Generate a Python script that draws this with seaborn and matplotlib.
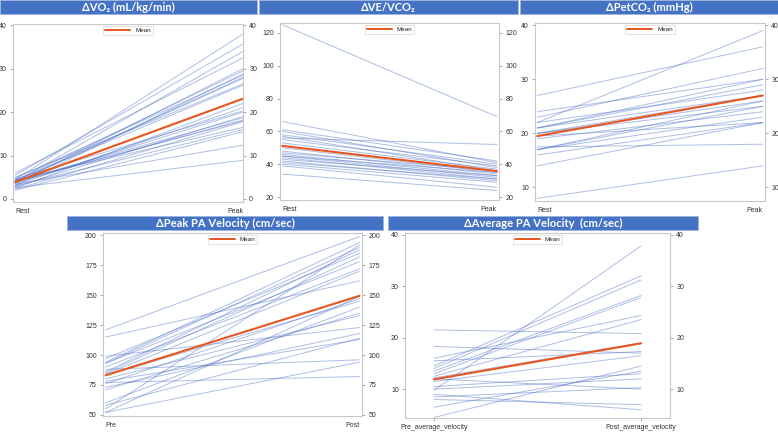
import numpy as np
import pandas as pd
import matplotlib
matplotlib.use("Agg")
import matplotlib.pyplot as plt
import seaborn as sns
from matplotlib.lines import Line2D
from matplotlib.patches import Rectangle

# Panel data
vo2_rest = [4.5, 5.5, 4.0, 6.0, 3.5, 4.2, 3.0, 4.8, 4.0, 3.8, 5.0, 4.3, 2.5, 3.2, 4.6, 3.6, 2.8, 4.1, 3.9, 2.2, 4.4, 3.0, 2.0, 3.4, 2.6, 4.0]
vo2_peak = [38.0, 35.7, 34.0, 32.5, 30.0, 29.5, 28.8, 28.5, 28.0, 27.8, 26.5, 26.2, 22.0, 21.0, 20.3, 20.0, 19.0, 18.7, 18.2, 17.8, 16.5, 16.0, 15.5, 12.4, 8.9, 18.0]
vo2_mean = [3.9, 23.1]

ve_rest = [125, 66, 61, 60, 58, 57, 56, 55, 53, 50, 48, 47, 46, 45, 45, 44, 43, 42, 41, 40, 39, 34]
ve_peak = [69, 41, 42, 38, 40, 36, 52, 39, 37, 35, 34, 36, 33, 35, 32, 31, 33, 30, 31, 29, 26, 24]
ve_mean = [51.2, 35.8]

pet_rest = [27, 22, 24, 23, 22, 21, 21, 21, 20, 20, 20, 19, 17, 17, 17, 16, 14, 8, 17.5, 19.5]
pet_peak = [36, 39, 30, 32, 28, 30, 29, 27, 27, 26, 25, 24, 26, 25, 23, 22, 22, 14, 18, 22]
pet_mean = [19.5, 27.0]

ppa_pre = [121, 115, 99, 97, 94, 93, 93, 88, 86, 85, 84, 83, 80, 78, 77, 76, 73, 71, 60, 58, 55, 52, 52, 90]
ppa_post = [199, 162, 123, 185, 194, 190, 178, 96, 188, 182, 170, 145, 133, 113, 82, 147, 118, 135, 140, 114, 192, 149, 94, 172]
ppa_mean = [83, 149.5]

apa_pre = [9.8, 21.5, 18.3, 14.5, 14.0, 13.5, 13.0, 16.0, 12.5, 4.5, 6.5, 8.0, 8.5, 10.0, 12.0, 10.5, 11.5, 15.5, 9.0, 12.2]
apa_post = [37.8, 20.8, 17.0, 32.0, 31.2, 28.2, 27.8, 24.3, 23.5, 14.5, 13.5, 7.0, 10.3, 12.0, 10.0, 13.0, 16.5, 17.3, 6.0, 19.0]
apa_mean = [11.9, 18.9]

LINE = "#4a6fc7"
MEAN = "#e8561f"
BAR = "#4472c4"

sns.set_style("white")
plt.rcParams["font.family"] = ["Liberation Sans", "DejaVu Sans"]

fig = plt.figure(figsize=(7.78, 4.32), dpi=100)

panels = [
    # title, labels, before, after, mean, ylim, yticks, axes rect, xlim, edge labels, title bar
    ("\u0394VO\u2082 (mL/kg/min)", ["Rest", "Peak"], vo2_rest, vo2_peak, vo2_mean,
     (-0.7, 40.3), [0, 10, 20, 30, 40], [0.0167, 0.5324, 0.2956, 0.412], (-0.01, 1.0), True,
     (0, 257, 0, 14)),
    ("\u0394VE/VCO\u2082", ["Rest", "Peak"], ve_rest, ve_peak, ve_mean,
     (18.2, 126), [20, 40, 60, 80, 100, 120], [0.3599, 0.537, 0.2815, 0.4097], (-0.01, 1.01), True,
     (259, 518, 0, 14)),
    ("\u0394PetCO\u2082 (mmHg)", ["Rest", "Peak"], pet_rest, pet_peak, pet_mean,
     (7.5, 40.4), [10, 20, 30, 40], [0.6877, 0.5347, 0.2956, 0.412], (-0.01, 1.01), True,
     (520, 778, 0, 14)),
    ("\u0394Peak PA Velocity (cm/sec)", ["Pre", "Post"], ppa_pre, ppa_post, ppa_mean,
     (49, 202), [50, 75, 100, 125, 150, 175, 200], [0.1324, 0.037, 0.3329, 0.4236], (-0.01, 1.01), True,
     (67, 383, 216, 230)),
    ("\u0394Average PA Velocity  (cm/sec)", ["Pre_average_velocity", "Post_average_velocity"], apa_pre, apa_post, apa_mean,
     (4.4, 40.3), [10, 20, 30, 40], [0.5206, 0.0324, 0.3406, 0.428], (-0.14, 1.14), False,
     (388, 698, 216, 230)),
]

W, H = 778, 432
for title, labels, before, after, mean, ylim, yticks, rect, xlim, edge, bar in panels:
    ax = fig.add_axes(rect)
    n = len(before)
    df = pd.DataFrame({
        "subject": list(range(n)) * 2,
        "time": [labels[0]] * n + [labels[1]] * n,
        "value": list(before) + list(after),
    })
    sns.lineplot(data=df, x="time", y="value", units="subject", estimator=None,
                 color=LINE, alpha=0.45, linewidth=0.7, ax=ax)
    mdf = pd.DataFrame({"time": labels, "value": mean})
    sns.lineplot(data=mdf, x="time", y="value", color=MEAN, linewidth=1.5, ax=ax)

    ax.set_xlim(*xlim)
    ax.set_ylim(*ylim)
    ax.set_yticks(yticks)
    ax.set_xlabel("")
    ax.set_ylabel("")
    ax.tick_params(axis="y", right=True, labelright=True, left=True, length=2.5,
                   width=0.5, color="#888888", labelsize=5, labelcolor="#333333", pad=2)
    ax.tick_params(axis="x", bottom=not edge, length=2.5, width=0.5, color="#888888",
                   labelsize=5, labelcolor="#333333", pad=2)
    if edge:
        tl = ax.get_xticklabels()
        tl[0].set_ha("left")
        tl[1].set_ha("right")
    for s in ax.spines.values():
        s.set_color("#c8c8c8")
        s.set_linewidth(0.8)

    leg = ax.legend(handles=[Line2D([], [], color=MEAN, lw=1.4)], labels=["Mean"],
                    loc="upper center", fontsize=4.5, frameon=True, fancybox=False,
                    borderpad=0.3, handlelength=4, handletextpad=0.8, borderaxespad=0.3)
    leg.get_frame().set_edgecolor("#cccccc")
    leg.get_frame().set_linewidth(0.5)

    x0, x1, y0, y1 = bar
    fig.patches.append(Rectangle((x0 / W, 1 - y1 / H), (x1 - x0) / W, (y1 - y0) / H,
                                 transform=fig.transFigure, facecolor=BAR,
                                 edgecolor="#9fb3da", linewidth=0.5))
    fig.text((x0 + x1) / 2 / W, 1 - (y0 + y1) / 2 / H, title, color="white",
             fontsize=8, fontweight="bold", ha="center", va="center",
             family=["Lato", "DejaVu Sans"])

fig.savefig("out.png", dpi=100)
